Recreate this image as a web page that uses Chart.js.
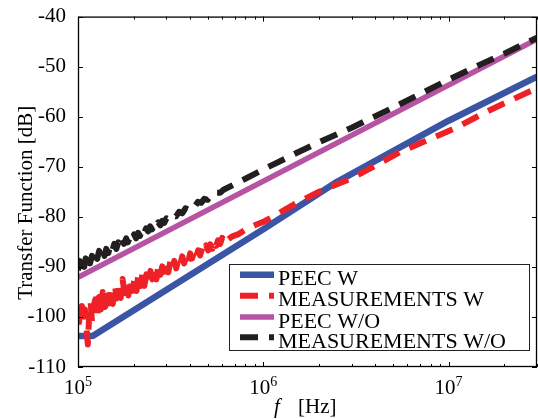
<!DOCTYPE html>
<html>
<head>
<meta charset="utf-8">
<script src="https://cdn.jsdelivr.net/npm/chart.js@4.4.1/dist/chart.umd.min.js"></script>
<style>
  html, body { margin: 0; padding: 0; background: #fff; }
  canvas { display: block; }
</style>
</head>
<body>
<canvas id="chart" width="538" height="419"></canvas>
<script>
// series labels (legend order)
const seriesNames = ['PEEC W', 'MEASUREMENTS W', 'PEEC W/O', 'MEASUREMENTS W/O'];

// PEEC W (blue)
const peecWFreq = [1e5, 1.2e5, 1e6, 2.5e6, 1e7, 3e7];
const peecWdB   = [-103.8, -103.8, -82.5, -73.0, -60.8, -52.0];

// PEEC W/O (magenta)
const peecWOFreq = [1e5, 3e7];
const peecWOdB   = [-92.1, -44.5];

// MEASUREMENTS W (red, dashed)
const measWFreq = [
  1.00e5, 1.01e5, 1.02e5, 1.04e5, 1.05e5, 1.07e5, 1.09e5, 1.11e5, 1.13e5, 1.15e5,
  1.17e5, 1.19e5, 1.21e5, 1.24e5, 1.27e5, 1.30e5, 1.33e5, 1.36e5, 1.40e5, 1.44e5,
  1.47e5,
  1.50e5, 1.54e5, 1.58e5, 1.62e5, 1.66e5, 1.70e5, 1.74e5, 1.78e5, 1.83e5, 1.87e5,
  1.92e5, 1.97e5, 2.02e5, 2.07e5, 2.12e5, 2.17e5, 2.23e5, 2.28e5, 2.34e5, 2.40e5,
  2.46e5, 2.52e5, 2.58e5, 2.65e5, 2.71e5, 2.78e5, 2.85e5, 2.92e5, 3.00e5, 3.07e5,
  3.15e5, 3.23e5, 3.31e5, 3.39e5, 3.48e5, 3.56e5, 3.65e5, 3.74e5, 3.84e5, 3.93e5,
  4.03e5, 4.13e5, 4.24e5, 4.34e5, 4.45e5, 4.56e5, 4.68e5, 4.80e5, 4.92e5, 5.04e5,
  5.17e5, 5.30e5, 5.43e5, 5.56e5, 5.70e5, 5.85e5, 6.00e5, 6.15e5, 6.30e5, 6.46e5,
  6.80e5, 7.30e5, 8.00e5, 9.00e5, 1.0e6, 1.2e6, 1.5e6, 2.0e6, 2.5e6, 3.0e6,
  4.0e6, 5.5e6, 8.0e6, 1.1e7, 1.6e7, 2.2e7, 3.0e7
];
const measWdB = [
  -98.0, -102.5, -99.0, -101.5, -97.8, -100.5, -98.5, -102.0, -105.5, -99.5,
  -97.0, -101.0, -98.0, -96.5, -99.5, -96.0, -98.5, -95.0, -98.0, -94.5,
  -97.3,
  -94.5, -97.4, -93.6, -96.3, -93.4, -96.2, -92.4, -95.2, -93.3, -95.7,
  -92.3, -94.8, -92.3, -94.8, -91.2, -93.8, -91.4, -93.8, -91.5, -93.5,
  -90.8, -92.5, -90.6, -92.5, -89.9, -91.6, -89.9, -91.6, -89.6, -91.1,
  -88.9, -90.3, -88.8, -90.3, -88.5, -89.6, -87.9, -89.3, -87.8, -89.0,
  -87.3, -88.3, -86.8, -88.0, -86.7, -87.7, -86.2, -87.0, -85.7, -86.7,
  -85.5, -86.4, -85.0, -85.8, -84.7, -85.4, -84.2, -84.9, -84.0, -84.5,
  -83.9, -83.5, -82.6, -81.7, -81.0, -79.4, -77.3, -75.0, -73.5, -72.3,
  -69.8, -67.0, -64.4, -62.2, -59.0, -56.6, -54.3
];

// MEASUREMENTS W/O (black, dashed)
const measWOFreq = [
  1.00e5, 1.02e5, 1.04e5, 1.06e5, 1.08e5, 1.10e5, 1.12e5, 1.14e5, 1.16e5, 1.19e5,
  1.21e5, 1.24e5, 1.27e5, 1.30e5, 1.33e5, 1.36e5, 1.39e5, 1.42e5, 1.46e5, 1.49e5,
  1.53e5, 1.57e5, 1.61e5, 1.65e5, 1.69e5, 1.73e5, 1.77e5, 1.82e5, 1.86e5, 1.91e5,
  1.96e5, 2.01e5, 2.06e5, 2.11e5, 2.16e5, 2.22e5, 2.27e5, 2.33e5, 2.39e5, 2.45e5,
  2.51e5, 2.57e5, 2.64e5, 2.71e5, 2.78e5, 2.85e5, 2.92e5, 3.00e5, 3.12e5, 3.25e5,
  3.38e5, 3.51e5, 3.65e5, 3.80e5, 3.95e5, 4.11e5, 4.27e5, 4.44e5, 4.62e5, 4.80e5,
  5.00e5, 5.20e5, 5.40e5, 5.62e5, 5.85e5, 6.10e5,
  7.0e5, 8.0e5, 9.0e5, 1.0e6, 1.2e6, 1.5e6, 2.0e6, 3.0e6, 5.0e6, 7.0e6,
  1.0e7, 1.5e7, 2.0e7, 3.0e7
];
const measWOdB = [
  -90.7, -88.8, -90.5, -88.8, -90.0, -88.3, -89.5, -87.9, -89.3, -87.8,
  -89.0, -87.3, -88.4, -86.8, -87.9, -86.6, -87.8, -86.4, -87.2, -85.8,
  -86.8, -85.4, -86.4, -85.1, -85.9, -84.6, -85.4, -84.3, -85.1, -83.9,
  -84.6, -83.5, -84.3, -83.2, -83.8, -82.6, -83.4, -82.3, -82.9, -81.9,
  -82.5, -81.5, -82.0, -81.1, -81.7, -80.8, -81.2, -80.3, -80.6, -79.7,
  -79.9, -79.0, -79.3, -78.3, -78.6, -77.7, -77.9, -77.0, -77.2, -76.4,
  -76.6, -75.8, -75.9, -75.2, -75.2, -74.6,
  -73.5, -72.4, -71.4, -70.5, -69.1, -67.3, -65.1, -62.2, -58.2, -55.5,
  -52.6, -49.5, -47.4, -44.2
];

// axes
const xMin = 1e5, xMax = 3e7;
const xTickExponents = [5, 6, 7];
const yMin = -110, yMax = -40, yStep = 10;
const xTitle = 'f';
const xTitleUnit = '[Hz]';
const yTitle = 'Transfer Function [dB]';

const SERIF = "'Liberation Serif', 'Times New Roman', serif";

function pts(fs, vs) {
    return fs.map((f, i) => ({ x: f, y: vs[i] }));
}

const matlabFrame = {
    id: 'matlabFrame',
    afterDraw(chart) {
        const { ctx, chartArea: a, scales: { x, y } } = chart;
        ctx.save();
        ctx.strokeStyle = '#000';
        ctx.lineWidth = 1;

        // x ticks, inward, top and bottom
        ctx.beginPath();
        for (const e of xTickExponents) {
            for (let m = 1; m <= 9; m++) {
                const f = m * Math.pow(10, e);
                if (f < xMin || f > xMax) continue;
                const px = Math.round(x.getPixelForValue(f)) + 0.5;
                const len = m === 1 ? 5 : 3;
                ctx.moveTo(px, a.bottom); ctx.lineTo(px, a.bottom - len);
                ctx.moveTo(px, a.top); ctx.lineTo(px, a.top + len);
            }
        }
        // y ticks, inward, left and right
        for (let v = yMin; v <= yMax; v += yStep) {
            const py = Math.round(y.getPixelForValue(v)) + 0.5;
            ctx.moveTo(a.left, py); ctx.lineTo(a.left + 5, py);
            ctx.moveTo(a.right, py); ctx.lineTo(a.right - 5, py);
        }
        ctx.stroke();

        // frame
        ctx.lineWidth = 1.3;
        ctx.strokeRect(a.left + 0.5, a.top + 0.5, a.right - a.left - 1, a.bottom - a.top - 1);

        // x tick labels 10^n
        ctx.fillStyle = '#000';
        ctx.textBaseline = 'alphabetic';
        ctx.textAlign = 'left';
        for (const e of xTickExponents) {
            const px = x.getPixelForValue(Math.pow(10, e));
            ctx.font = `21px ${SERIF}`;
            const wBase = ctx.measureText('10').width;
            ctx.font = `14px ${SERIF}`;
            const wExp = ctx.measureText(String(e)).width;
            const x0 = px - (wBase + wExp) / 2;
            ctx.font = `21px ${SERIF}`;
            ctx.fillText('10', x0, 394);
            ctx.font = `14px ${SERIF}`;
            ctx.fillText(String(e), x0 + wBase, 386);
        }

        // x title
        ctx.font = `italic 21px ${SERIF}`;
        ctx.fillText(xTitle, 274, 413);
        ctx.font = `21px ${SERIF}`;
        ctx.fillText(xTitleUnit, 298, 413);

        // y title
        ctx.save();
        ctx.translate(32, (a.top + a.bottom) / 2 + 11);
        ctx.rotate(-Math.PI / 2);
        ctx.textAlign = 'center';
        ctx.font = `21px ${SERIF}`;
        ctx.fillText(yTitle, 0, 0);
        ctx.restore();

        // legend box
        const lx = 229.5, ly = 264.5, lw = 300, lh = 86;
        ctx.fillStyle = '#fff';
        ctx.fillRect(lx, ly, lw, lh);
        ctx.lineWidth = 1;
        ctx.strokeStyle = '#222';
        ctx.strokeRect(lx, ly, lw, lh);
        const rowY = [274.7, 295.7, 317, 337.3];
        chart.data.datasets.forEach((ds, i) => {
            const yy = rowY[i];
            ctx.save();
            ctx.strokeStyle = ds.borderColor;
            ctx.lineWidth = ds.borderWidth;
            ctx.lineCap = 'butt';
            ctx.setLineDash(ds.borderDash || []);
            ctx.beginPath();
            ctx.moveTo(240, yy);
            ctx.lineTo(274, yy);
            ctx.stroke();
            ctx.restore();
            ctx.fillStyle = '#000';
            ctx.font = `22px ${SERIF}`;
            ctx.textAlign = 'left';
            ctx.fillText(ds.label, 278, yy + 10.5);
        });
        ctx.restore();
    }
};

new Chart(document.getElementById('chart'), {
    type: 'line',
    data: {
        datasets: [
            {
                label: seriesNames[0],
                data: pts(peecWFreq, peecWdB),
                borderColor: '#3b55a5',
                borderWidth: 6.5,
                order: 3
            },
            {
                label: seriesNames[1],
                data: pts(measWFreq, measWdB),
                borderColor: '#ed2126',
                borderWidth: 6,
                borderDash: [18, 11],
                order: 1
            },
            {
                label: seriesNames[2],
                data: pts(peecWOFreq, peecWOdB),
                borderColor: '#b653a2',
                borderWidth: 5.5,
                order: 2
            },
            {
                label: seriesNames[3],
                data: pts(measWOFreq, measWOdB),
                borderColor: '#231f20',
                borderWidth: 6,
                borderDash: [18, 11],
                order: 0
            }
        ]
    },
    options: {
        responsive: false,
        animation: false,
        clip: 0,
        layout: { padding: { top: 14, right: 1, left: 0, bottom: 0 } },
        elements: {
            point: { radius: 0 },
            line: { tension: 0, borderCapStyle: 'butt', borderJoinStyle: 'round', fill: false }
        },
        plugins: {
            legend: { display: false },
            tooltip: { enabled: false }
        },
        scales: {
            x: {
                type: 'logarithmic',
                min: xMin,
                max: xMax,
                grid: { display: false },
                border: { display: false },
                ticks: { display: false },
                afterFit(s) { s.height = 52; }
            },
            y: {
                type: 'linear',
                min: yMin,
                max: yMax,
                grid: { display: false },
                border: { display: false },
                ticks: {
                    stepSize: yStep,
                    padding: 4,
                    color: '#000',
                    font: { family: SERIF, size: 21 },
                    callback: v => String(v)
                },
                afterFit(s) { s.width = 78; }
            }
        }
    },
    plugins: [matlabFrame]
});
</script>
</body>
</html>
